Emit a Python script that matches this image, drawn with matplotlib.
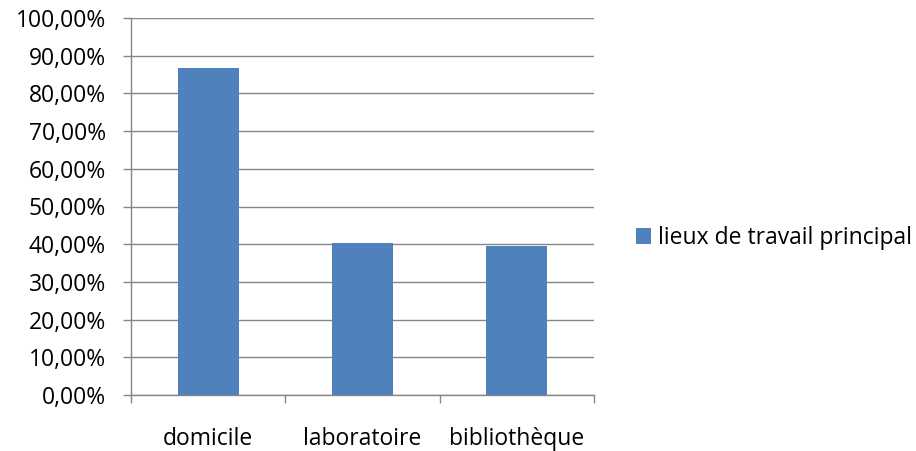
import numpy as np
import matplotlib.pyplot as plt
from matplotlib.ticker import FuncFormatter

categories = ['domicile', 'laboratoire', 'bibliothèque']
values = [86.7, 40.4, 39.5]
series_name = 'lieux de travail principal'

plt.rcParams['font.family'] = ['Open Sans', 'DejaVu Sans']

fig = plt.figure(figsize=(9.16, 4.51), dpi=100)
ax = fig.add_axes([131 / 916, 1 - 395 / 451, (594 - 131) / 916, (395 - 18) / 451])

x = np.arange(len(categories))
ax.bar(x, values, width=0.395, color='#4f81bd', label=series_name, zorder=3)

grey = '#868686'
fs = 16.5
ax.set_xlim(-0.5, len(categories) - 0.5)
ax.set_ylim(0, 100)
ax.set_yticks(np.arange(0, 101, 10))
ax.yaxis.set_major_formatter(FuncFormatter(lambda v, p: f'{v:.2f}'.replace('.', ',') + '%'))
ax.yaxis.grid(True, color=grey, linewidth=1)
ax.set_axisbelow(True)

ax.set_xticks(x)
ax.set_xticklabels(categories)
ax.set_xticks(np.arange(-0.5, len(categories), 1), minor=True)
ax.tick_params(axis='x', which='major', length=0, pad=23, labelsize=fs, colors='black')
ax.tick_params(axis='x', which='minor', length=6, color=grey, width=1)
ax.tick_params(axis='y', length=6, color=grey, width=1, labelsize=fs, pad=12)

for s in ['top', 'right']:
    ax.spines[s].set_visible(False)
for s in ['left', 'bottom']:
    ax.spines[s].set_color(grey)
    ax.spines[s].set_linewidth(1)

fig.legend(loc='center left', bbox_to_anchor=(636 / 916, 1 - 238 / 451), frameon=False,
           fontsize=fs, handlelength=0.65, handleheight=0.65, handletextpad=0.3,
           borderpad=0, borderaxespad=0)

fig.savefig('out.png', dpi=100)
